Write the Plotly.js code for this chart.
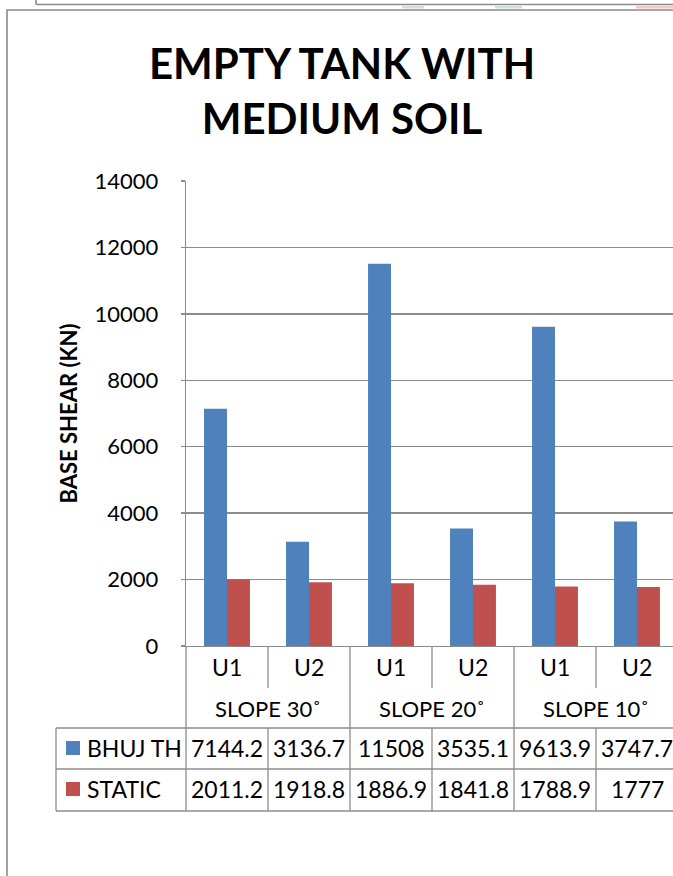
<!DOCTYPE html>
<html>
<head>
<meta charset="utf-8">
<script src="https://cdn.plot.ly/plotly-3.0.1.min.js"></script>
<style>
  html, body { margin: 0; padding: 0; background: #ffffff; overflow: hidden; }
  #chart { width: 673px; height: 876px; }
</style>
</head>
<body>
<div id="chart"></div>
<script>
// Base shear, empty tank on medium soil
const units = ["U1", "U2", "U1", "U2", "U1", "U2"];
const slopes = ["SLOPE 30˚", "SLOPE 20˚", "SLOPE 10˚"];
const seriesNames = ["BHUJ TH", "STATIC"];
const bhujTH = [7144.2, 3136.7, 11508, 3535.1, 9613.9, 3747.7];
const staticShear = [2011.2, 1918.8, 1886.9, 1841.8, 1788.9, 1777];
const yTickValues = [0, 2000, 4000, 6000, 8000, 10000, 12000, 14000];

// page geometry (pixels)
const W = 673, H = 876;
const M = { l: 186, r: 0, t: 181, b: 230 };
const catPx = 82;                       // width of one category column
const plotW = W - M.l - M.r, plotH = H - M.t - M.b;
const FONT = "Lato, 'Open Sans', sans-serif";
const GRID = "#8c8c8c";
const BLUE = "#4f81bd", RED = "#c0504d";

const idx = units.map((_, i) => i);
const xMax = -0.5 + plotW / catPx;

// helpers: pixel -> paper
const py = (y) => 1 - (y - M.t) / plotH;
const px = (x) => (x - M.l) / plotW;

const traces = [
  { type: "bar", name: seriesNames[0], x: idx, y: bhujTH, marker: { color: BLUE }, hoverinfo: "y" },
  { type: "bar", name: seriesNames[1], x: idx, y: staticShear, marker: { color: RED }, hoverinfo: "y" }
];

const shapes = [];
const line = (xref, x0, x1, yref, y0, y1, color, width) =>
  shapes.push({ type: "line", xref, yref, x0, x1, y0, y1, line: { color: color || GRID, width: width || 1.3 } });

// row boundaries of the data table under the axis
const yAxisPx = M.t + plotH;   // 646
const yUnitRow = 688, yTableTop = 728, yRow1 = 769, yTableBot = 811;

// category dividers
idx.forEach((i) => {
  const xb = i + 0.5;
  if (i % 2 === 0) line("x", xb, xb, "paper", py(yAxisPx), py(yUnitRow));       // U1|U2
  else line("x", xb, xb, "paper", py(yAxisPx), py(yTableBot));                  // between slopes
  if (i % 2 === 0) line("x", xb, xb, "paper", py(yTableTop), py(yTableBot));
});
// left edge of the axis continues through the table
line("paper", 0, 0, "paper", py(yAxisPx), py(yTableBot));
// table horizontal rules and legend column
[yTableTop, yRow1, yTableBot].forEach((y) => line("paper", px(56), 1.05, "paper", py(y), py(y)));
line("paper", px(56), px(56), "paper", py(yTableTop), py(yTableBot));

// legend keys inside the table
[[BLUE, 748], [RED, 789]].forEach(([c, y]) => shapes.push({
  type: "rect", xref: "paper", yref: "paper",
  x0: px(66), x1: px(80), y0: py(y - 7), y1: py(y + 7),
  fillcolor: c, line: { width: 0 }
}));

// chart frame and neighbouring frame edge
shapes.push({ type: "rect", xref: "paper", yref: "paper", x0: px(7), x1: px(720), y0: py(10), y1: py(920),
  line: { color: "#8a8a8a", width: 1.6 }, fillcolor: "rgba(0,0,0,0)" });
line("paper", px(36), px(720), "paper", py(4.5), py(4.5), "#8a8a8a", 1.6);
line("paper", px(36), px(36), "paper", py(-5), py(4.5), "#8a8a8a", 1.6);
[[402, 424, "#d3dde3"], [495, 522, "#d3dde3"], [636, 700, "#f4c9c9"]].forEach(([a, b, c]) => shapes.push({
  type: "rect", xref: "paper", yref: "paper", x0: px(a), x1: px(b), y0: py(6), y1: py(8.5),
  fillcolor: c, line: { width: 0 }
}));

const annotations = [];
const txt = (xref, x, y, text, xanchor, size) => annotations.push({
  xref, yref: "paper", x, y: py(y), text, showarrow: false,
  xanchor: xanchor || "center", yanchor: "middle",
  font: { family: FONT, size: size || 23, color: "#000000" }
});

// unit and slope labels
units.forEach((u, i) => txt("x", i, 667, u, "center", 23));
slopes.forEach((s, g) => txt("x", 2 * g + 0.5, 708, s, "center", 22));
// table rows
txt("paper", px(85), 748, seriesNames[0], "left", 23);
txt("paper", px(85), 789, seriesNames[1], "left", 23);
bhujTH.forEach((v, i) => txt("x", i, 748, String(v)));
staticShear.forEach((v, i) => txt("x", i, 789, String(v)));

const layout = {
  width: W, height: H,
  margin: M,
  paper_bgcolor: "#ffffff", plot_bgcolor: "#ffffff",
  font: { family: FONT, color: "#000000" },
  title: {
    text: "<b>EMPTY TANK WITH<br>MEDIUM SOIL</b>",
    font: { family: FONT, size: 42, color: "#000000" },
    x: 342 / W, xanchor: "center", xref: "container",
    y: 1 - 79 / H, yanchor: "middle", yref: "container"
  },
  showlegend: false,
  barmode: "group", bargap: 0.44, bargroupgap: 0,
  xaxis: {
    range: [-0.5, xMax], showticklabels: false, ticks: "",
    showgrid: false, zeroline: false, showline: true, linecolor: GRID, linewidth: 1.3,
    fixedrange: true
  },
  yaxis: {
    range: [0, 14000], tickvals: yTickValues, ticktext: yTickValues.map(String),
    showgrid: true, gridcolor: GRID, gridwidth: 1.3,
    zeroline: false, showline: true, linecolor: GRID, linewidth: 1.3,
    ticks: "outside", ticklen: 4, tickcolor: GRID, tickwidth: 1.3,
    ticklabelstandoff: 18,
    tickfont: { family: FONT, size: 22, color: "#000000" },
    title: { text: "<b>BASE SHEAR (KN)</b>", font: { family: FONT, size: 22, color: "#000000" }, standoff: 10 },
    fixedrange: true
  },
  shapes, annotations
};

Plotly.newPlot("chart", traces, layout, { displayModeBar: false, staticPlot: true });
</script>
</body>
</html>
